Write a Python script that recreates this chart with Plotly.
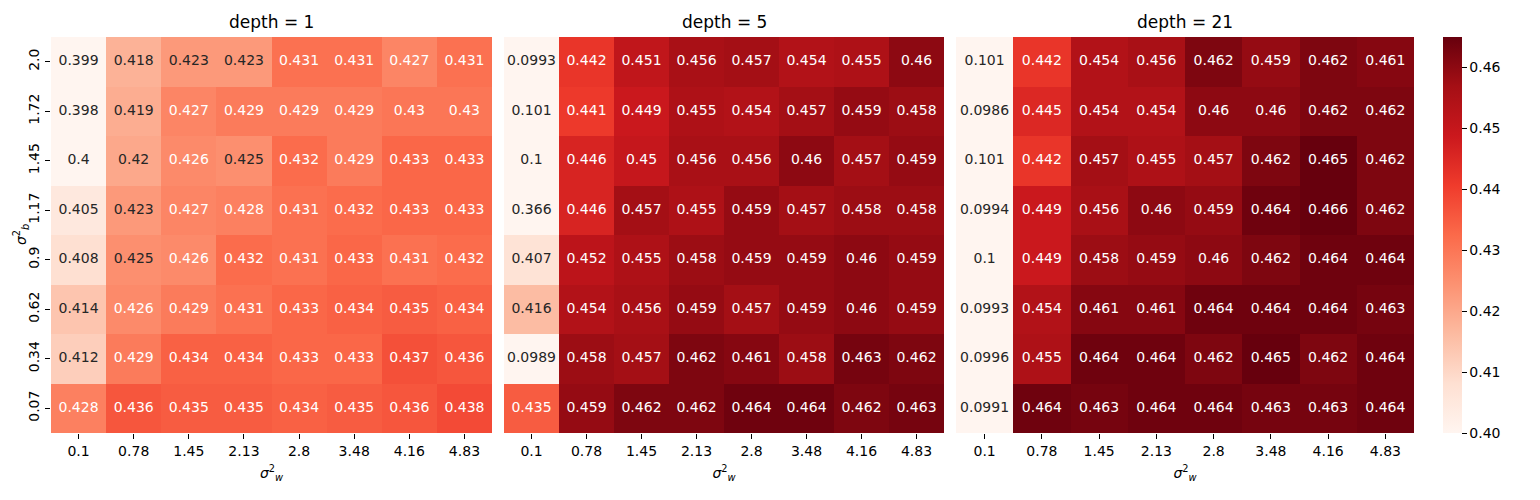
import plotly.graph_objects as go

# axis labels
sigma_w = ['0.1', '0.78', '1.45', '2.13', '2.8', '3.48', '4.16', '4.83']
sigma_b = ['2.0', '1.72', '1.45', '1.17', '0.9', '0.62', '0.34', '0.07']  # top -> bottom
depths = [1, 5, 21]

# accuracy grids, rows top -> bottom
depth_1 = [
    [0.399, 0.418, 0.423, 0.423, 0.431, 0.431, 0.427, 0.431],
    [0.398, 0.419, 0.427, 0.429, 0.429, 0.429, 0.43, 0.43],
    [0.4, 0.42, 0.426, 0.425, 0.432, 0.429, 0.433, 0.433],
    [0.405, 0.423, 0.427, 0.428, 0.431, 0.432, 0.433, 0.433],
    [0.408, 0.425, 0.426, 0.432, 0.431, 0.433, 0.431, 0.432],
    [0.414, 0.426, 0.429, 0.431, 0.433, 0.434, 0.435, 0.434],
    [0.412, 0.429, 0.434, 0.434, 0.433, 0.433, 0.437, 0.436],
    [0.428, 0.436, 0.435, 0.435, 0.434, 0.435, 0.436, 0.438],
]
depth_5 = [
    [0.0993, 0.442, 0.451, 0.456, 0.457, 0.454, 0.455, 0.46],
    [0.101, 0.441, 0.449, 0.455, 0.454, 0.457, 0.459, 0.458],
    [0.1, 0.446, 0.45, 0.456, 0.456, 0.46, 0.457, 0.459],
    [0.366, 0.446, 0.457, 0.455, 0.459, 0.457, 0.458, 0.458],
    [0.407, 0.452, 0.455, 0.458, 0.459, 0.459, 0.46, 0.459],
    [0.416, 0.454, 0.456, 0.459, 0.457, 0.459, 0.46, 0.459],
    [0.0989, 0.458, 0.457, 0.462, 0.461, 0.458, 0.463, 0.462],
    [0.435, 0.459, 0.462, 0.462, 0.464, 0.464, 0.462, 0.463],
]
depth_21 = [
    [0.101, 0.442, 0.454, 0.456, 0.462, 0.459, 0.462, 0.461],
    [0.0986, 0.445, 0.454, 0.454, 0.46, 0.46, 0.462, 0.462],
    [0.101, 0.442, 0.457, 0.455, 0.457, 0.462, 0.465, 0.462],
    [0.0994, 0.449, 0.456, 0.46, 0.459, 0.464, 0.466, 0.462],
    [0.1, 0.449, 0.458, 0.459, 0.46, 0.462, 0.464, 0.464],
    [0.0993, 0.454, 0.461, 0.461, 0.464, 0.464, 0.464, 0.463],
    [0.0996, 0.455, 0.464, 0.464, 0.462, 0.465, 0.462, 0.464],
    [0.0991, 0.464, 0.463, 0.464, 0.464, 0.463, 0.463, 0.464],
]
grids = [depth_1, depth_5, depth_21]

# matplotlib "Reds"
reds = ['#fff5f0', '#fee0d2', '#fcbba1', '#fc9272', '#fb6a4a',
        '#ef3b2c', '#cb181d', '#a50f15', '#67000d']
colorscale = [[i / (len(reds) - 1), c] for i, c in enumerate(reds)]
ZMIN, ZMAX = 0.40, 0.465

# page has an 8px body margin, so size the figure to fit inside it
OFF = 8
W, H = 1540 - 2 * OFF, 500 - 2 * OFF
domains = [(51, 492), (504, 944), (956, 1414)]  # screen pixels
y_top, y_bot = 37, 433
FONT = 'DejaVu Sans'


def px_x(v):
    return (v - OFF) / W


def px_y(v):
    return 1 - (v - OFF) / H


fig = go.Figure()

for i, (depth, grid) in enumerate(zip(depths, grids)):
    ax = '' if i == 0 else str(i + 1)
    fig.add_trace(go.Heatmap(
        z=grid, x=sigma_w, y=sigma_b,
        colorscale=colorscale, zmin=ZMIN, zmax=ZMAX,
        showscale=(i == 0),
        colorbar=dict(
            x=px_x(1443), xanchor='left', thickness=19, thicknessmode='pixels',
            y=px_y(y_bot), yanchor='bottom', len=(y_bot - y_top) / H,
            lenmode='fraction', outlinewidth=0, xpad=0, ypad=0,
            tickvals=[0.40, 0.41, 0.42, 0.43, 0.44, 0.45, 0.46],
            ticktext=['0.40', '0.41', '0.42', '0.43', '0.44', '0.45', '0.46'],
            ticks='outside', ticklen=5, tickwidth=1, tickcolor='black',
            tickfont=dict(family=FONT, size=14, color='black'),
        ),
        hoverinfo='skip',
        xaxis='x' + ax, yaxis='y' + ax,
    ))

    xs, ys, labels, colors = [], [], [], []
    for r, row in enumerate(grid):
        for c, v in enumerate(row):
            xs.append(sigma_w[c])
            ys.append(sigma_b[r])
            labels.append(format(v, '.3g'))
            colors.append('#262626' if v < 0.4255 else 'white')
    fig.add_trace(go.Scatter(
        x=xs, y=ys, mode='text', text=labels,
        textfont=dict(family=FONT, size=14, color=colors),
        hoverinfo='skip', showlegend=False,
        xaxis='x' + ax, yaxis='y' + ax,
    ))

    x0, x1 = domains[i]
    fig.layout['xaxis' + ax] = dict(
        domain=[px_x(x0), px_x(x1)], anchor='y' + ax,
        type='category', categoryorder='array', categoryarray=sigma_w,
        ticks='outside', ticklen=5, tickwidth=1, tickcolor='black',
        tickfont=dict(family=FONT, size=14, color='black'),
        showgrid=False, zeroline=False, showline=False, automargin=False,
        title=dict(text='<i>σ</i><sup>2</sup><sub><i>w</i></sub>',
                   font=dict(family=FONT, size=14, color='black'), standoff=10),
    )
    fig.layout['yaxis' + ax] = dict(
        domain=[px_y(y_bot), px_y(y_top)], anchor='x' + ax,
        type='category', categoryorder='array', categoryarray=sigma_b,
        autorange='reversed',
        ticks='outside' if i == 0 else '', ticklen=5, tickwidth=1, tickcolor='black',
        showticklabels=(i == 0), tickangle=-90,
        tickfont=dict(family=FONT, size=14, color='black'),
        showgrid=False, zeroline=False, showline=False, automargin=False,
    )

    fig.add_annotation(
        text=f'depth = {depth}', xref='paper', yref='paper',
        x=px_x((x0 + x1) / 2), y=px_y(22), xanchor='center', yanchor='middle',
        showarrow=False, font=dict(family=FONT, size=17, color='black'),
    )

# y axis title of the first panel
fig.add_annotation(
    text='<i>σ</i><sup>2</sup><sub><i>b</i></sub>', xref='paper', yref='paper',
    x=px_x(9), y=px_y((y_top + y_bot) / 2), xanchor='left', yanchor='middle',
    textangle=-90, showarrow=False, font=dict(family=FONT, size=14, color='black'),
)

fig.update_layout(
    width=W, height=H,
    margin=dict(l=0, r=0, t=0, b=0, autoexpand=False),
    paper_bgcolor='white', plot_bgcolor='white',
    showlegend=False,
)

fig.write_html('out.html')
